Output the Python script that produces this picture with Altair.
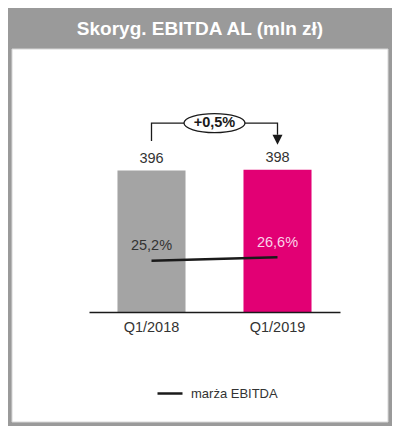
import altair as alt
import pandas as pd

# ---- data ----
categories = ["Q1/2018", "Q1/2019"]
ebitda = [396, 398]
value_labels = ["396", "398"]
margin = [25.2, 26.6]
margin_labels = ["25,2%", "26,6%"]
bar_colors = ["#a4a4a4", "#e20074"]
margin_label_colors = ["#333333", "#fbd3e8"]
change_label = "+0,5%"
title_text = "Skoryg. EBITDA AL (mln zł)"
legend_label = "marża EBITDA"

FONT = "Liberation Sans"
W, H = 251, 160
Y_MAX = 448
MARGIN_DOMAIN = [4.1, 70.0]

bars_df = pd.DataFrame({"cat": categories, "v": ebitda, "lab": value_labels,
                        "col": bar_colors})
margin_df = pd.DataFrame({"cat": categories, "m": margin, "lab": margin_labels,
                          "lcol": margin_label_colors,
                          "series": [legend_label] * len(categories)})

top = max(ebitda)
lvl_low = top + 81
lvl_top = top + 131
lvl_arrow_top = top + 98
lvl_arrow = top + 84
bracket_df = pd.DataFrame({
    "cat": [categories[0], categories[0], categories[1], categories[1]],
    "v": [lvl_low, lvl_top, lvl_top, lvl_arrow_top],
    "o": [0, 1, 2, 3],
})
arrow_df = pd.DataFrame({"cat": [categories[1]], "v": [lvl_arrow]})
change_df = pd.DataFrame({"cat": [categories[0]], "v": [lvl_top], "lab": [change_label]})

x_scale = alt.Scale(domain=categories, paddingInner=0.46, paddingOuter=0.226)
x_axis = alt.Axis(title=None, labelAngle=0, ticks=False, grid=False,
                  domainColor="#1a1a1a", domainWidth=1.5, labelFontSize=14.5,
                  labelColor="#333333", labelFont=FONT, labelPadding=8, zindex=1)
x_enc = alt.X("cat:N", scale=x_scale, axis=x_axis, sort=categories)
y_scale = alt.Scale(domain=[0, Y_MAX], nice=False, zero=True)
y_enc = alt.Y("v:Q", scale=y_scale, axis=None)

# decorations
frame = alt.Chart(pd.DataFrame({"a": [0]})).mark_rect(
    color="white", stroke="#d6d6d6", strokeWidth=1
).encode(x=alt.value(-77), x2=alt.value(299), y=alt.value(-103), y2=alt.value(270))

title = alt.Chart(pd.DataFrame({"t": [title_text]})).mark_text(
    font=FONT, fontSize=19, fontWeight="bold", color="white", baseline="alphabetic",
    align="center"
).encode(text="t:N", x=alt.value(111), y=alt.value(-117))

bars = alt.Chart(bars_df).mark_bar().encode(
    x=x_enc, y=y_enc,
    color=alt.Color("col:N", scale=None),
)
bar_text = alt.Chart(bars_df).mark_text(
    font=FONT, fontSize=14.5, color="#333333", baseline="alphabetic", dy=-8
).encode(x=x_enc, y=y_enc, text="lab:N")

m_y = alt.Y("m:Q", scale=alt.Scale(domain=MARGIN_DOMAIN, nice=False, zero=False), axis=None)
line = alt.Chart(margin_df).mark_line(strokeWidth=2.5).encode(
    x=x_enc, y=m_y,
    color=alt.Color("series:N", scale=alt.Scale(range=["#1a1a1a"]),
                    legend=alt.Legend(title=None, orient="none", legendX=67, legendY=227.5,
                                      symbolType="stroke", symbolStrokeWidth=2.5,
                                      symbolSize=625, labelFontSize=13, labelFont=FONT,
                                      labelColor="#333333", labelOffset=7, padding=0)),
)
m_text = alt.Chart(margin_df).mark_text(
    font=FONT, fontSize=14.5, baseline="middle", dy=-14.5
).encode(x=x_enc, y=m_y, text="lab:N", color=alt.Color("lcol:N", scale=None))

bracket = alt.Chart(bracket_df).mark_line(color="#1a1a1a", strokeWidth=1.3).encode(
    x=x_enc, y=y_enc, order="o:Q"
)
arrow = alt.Chart(arrow_df).mark_point(
    shape="M-1,-1L1,-1L0,1Z", size=100, filled=True, color="#1a1a1a", opacity=1
).encode(x=x_enc, y=y_enc)
ellipse = alt.Chart(change_df).mark_point(
    shape="M-1,0A1,0.31 0 1,1 1,0A1,0.31 0 1,1 -1,0Z", size=3721,
    fill="white", stroke="#1a1a1a", strokeWidth=1.3, opacity=1, fillOpacity=1,
    xOffset=63
).encode(x=x_enc, y=y_enc)
change_text = alt.Chart(change_df).mark_text(
    font=FONT, fontSize=14.5, fontWeight="bold", color="#1a1a1a", baseline="middle",
    xOffset=63
).encode(x=x_enc, y=y_enc, text="lab:N")

chart = alt.layer(
    frame, title, bars, bar_text, line, m_text, bracket, arrow, ellipse, change_text
).resolve_scale(y="independent", color="independent").properties(
    width=W, height=H,
    padding={"left": 81, "top": 144, "right": 52, "bottom": 114},
    autosize=alt.AutoSizeParams(type="none"),
    background="#9a9a9a",
).configure_view(stroke=None)

chart.save("out.html", embed_options={"renderer": "svg", "actions": False})
